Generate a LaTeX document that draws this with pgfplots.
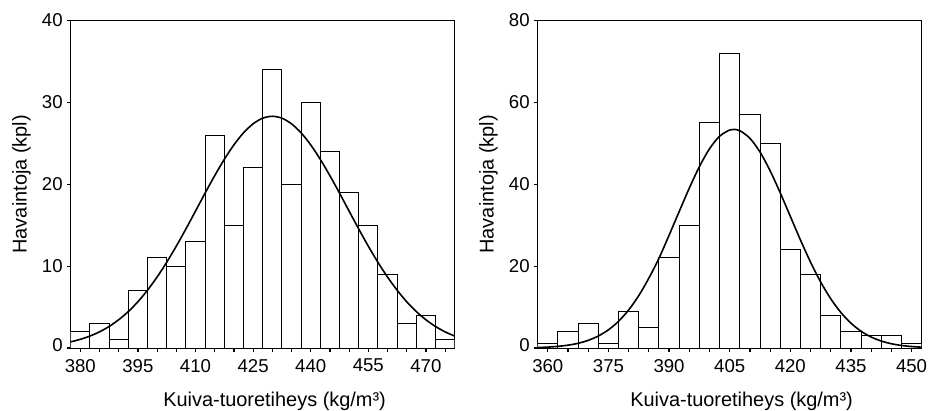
\documentclass[border=0pt]{standalone}
\usepackage{pgfplots}
\pgfplotsset{compat=1.18}
\usepackage{pgfplotstable}
\usepackage{fontspec}
\setmainfont{Liberation Sans}

% histogram counts, bins 5 kg/m3 wide, centred on x
\pgfplotstableread{
x   n
380 2
385 3
390 1
395 7
400 11
405 10
410 13
415 26
420 15
425 22
430 34
435 20
440 30
445 24
450 19
455 15
460 9
465 3
470 4
475 1
}\lefthist

\pgfplotstableread{
x   n
360 1
365 4
370 6
375 1
380 9
385 5
390 22
395 30
400 55
405 72
410 57
415 50
420 24
425 18
430 8
435 4
440 3
445 3
450 1
}\righthist

% fitted normal curves
\pgfplotstableread{
x     f
377.5 0.75
380   1.06
382.5 1.46
385   1.97
387.5 2.63
390   3.45
392.5 4.45
395   5.65
397.5 7.06
400   8.67
402.5 10.47
405   12.44
407.5 14.54
410   16.72
412.5 18.92
415   21.05
417.5 23.04
420   24.81
422.5 26.28
425   27.38
427.5 28.07
430   28.30
432.5 28.07
435   27.38
437.5 26.28
440   24.81
442.5 23.04
445   21.05
447.5 18.92
450   16.72
452.5 14.54
455   12.44
457.5 10.47
460   8.67
462.5 7.06
465   5.65
467.5 4.45
470   3.45
472.5 2.63
475   1.97
477.5 1.46
}\leftfit

\pgfplotstableread{
x     f
357.5 0.12
360   0.22
362.5 0.40
365   0.69
367.5 1.15
370   1.87
372.5 2.93
375   4.44
377.5 6.52
380   9.29
382.5 12.79
385   17.06
387.5 21.92
390   27.53
392.5 33.32
395   39.04
397.5 44.29
400   48.65
402.5 51.73
405   53.26
406   53.40
407.5 53.09
410   51.23
412.5 47.87
415   43.30
417.5 37.92
420   32.16
422.5 26.40
425   20.98
427.5 16.14
430   12.03
432.5 8.68
435   6.06
437.5 4.10
440   2.68
442.5 1.70
445   1.04
447.5 0.62
450   0.36
452.5 0.20
}\rightfit

\begin{document}
\begin{tikzpicture}
\pgfplotsset{
  histo/.style={
    scale only axis, width=192bp, height=163.75bp,
    ymin=0,
    axis line style={line width=0.75bp},
    tick align=outside, xtick pos=bottom, ytick pos=left,
    major tick length=2bp, minor tick length=2bp,
    every tick/.style={black, line width=0.6bp},
    every minor tick/.style={black, line width=0.6bp},
    /pgf/number format/assume math mode=true,
    tick label style={font=\fontsize{9.3bp}{10bp}\selectfont},
    yticklabel style={xshift=1.5bp},
    yticklabel={\ifdim\tick pt=0pt\raisebox{2.5bp}{0}\else\pgfmathprintnumber{\tick}\fi},
    label style={font=\fontsize{9.1bp}{11bp}\selectfont},
    ylabel={Havaintoja (kpl)},
    xlabel={Kuiva-tuoretiheys (kg/m³)},
    every axis y label/.style={at={(axis description cs:-0.128,0.5)}, rotate=90, anchor=center},
    every axis x label/.style={at={(axis description cs:0.531,-0.164)}, anchor=center},
  },
  hbar/.style={ybar, bar width=5, bar shift=0pt, draw=black, fill=white, line width=0.5bp},
  fit/.style={smooth, black, line width=0.8bp, no markers},
}

\begin{axis}[histo, at={(0,0)}, anchor=south west,
    xmin=377.5, xmax=477.5, ymax=40,
    xtick={380,395,...,470}, minor xtick={385,390,400,405,415,420,430,435,445,450,460,465,475},
    ytick={0,10,...,40}]
  \addplot[hbar] table[x=x, y=n] {\lefthist};
  \addplot[fit] table[x=x, y=f] {\leftfit};
\end{axis}

\begin{axis}[histo, at={(233.5bp,0)}, anchor=south west,
    xmin=357.5, xmax=452.5, ymax=80,
    xtick={360,375,...,450}, minor xtick={365,370,380,385,395,400,410,415,425,430,440,445},
    ytick={0,20,...,80}]
  \addplot[hbar] table[x=x, y=n] {\righthist};
  \addplot[fit] table[x=x, y=f] {\rightfit};
\end{axis}

\pgfresetboundingbox
\useasboundingbox (-35.35bp,-31.5bp) rectangle (428.65bp,174bp);
\end{tikzpicture}
\end{document}
